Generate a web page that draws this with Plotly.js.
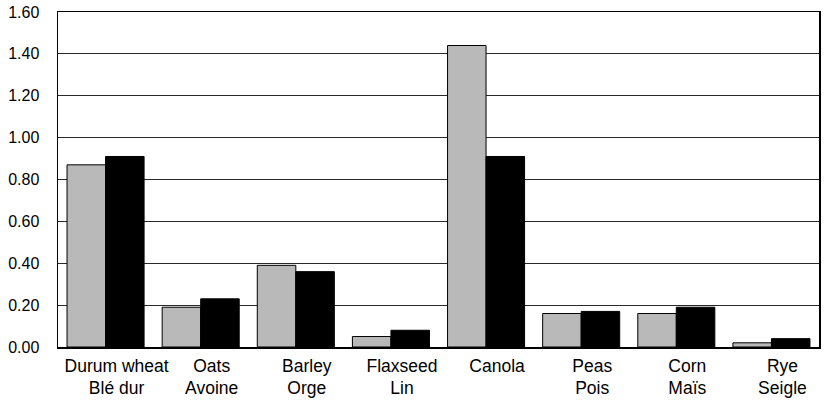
<!DOCTYPE html>
<html>
<head>
<meta charset="utf-8">
<script src="https://cdn.plot.ly/plotly-3.0.1.min.js"></script>
<style>html,body{margin:0;padding:0;background:#fff;}#chart{width:840px;height:403px;}</style>
</head>
<body>
<div id="chart"></div>
<script>
var categories = ["Durum wheat<br>Blé dur", "Oats<br>Avoine", "Barley<br>Orge", "Flaxseed<br>Lin", "Canola", "Peas<br>Pois", "Corn<br>Maïs", "Rye<br>Seigle"];
var seriesGray = [0.87, 0.19, 0.39, 0.05, 1.44, 0.16, 0.16, 0.02];
var seriesBlack = [0.91, 0.23, 0.36, 0.08, 0.91, 0.17, 0.19, 0.04];
var yTickVals = [0, 0.2, 0.4, 0.6, 0.8, 1.0, 1.2, 1.4, 1.6];
var yTickText = ["0.00", "0.20", "0.40", "0.60", "0.80", "1.00", "1.20", "1.40", "1.60"];

var traces = [
  {type: "bar", x: categories, y: seriesGray, marker: {color: "#b9b9b9", line: {color: "#000", width: 1}}, hoverinfo: "skip"},
  {type: "bar", x: categories, y: seriesBlack, marker: {color: "#000", line: {color: "#000", width: 1}}, hoverinfo: "skip"}
];
var layout = {
  width: 840, height: 403,
  margin: {l: 58, r: 21, t: 12, b: 56},
  paper_bgcolor: "#fff", plot_bgcolor: "#fff",
  showlegend: false,
  barmode: "group", bargap: 0.19, bargroupgap: 0,
  font: {family: "Liberation Sans, Arial, sans-serif", color: "#000"},
  xaxis: {
    showline: true, linecolor: "#000", linewidth: 1.5, mirror: true,
    ticks: "", showgrid: false, ticklabelstandoff: 2, ticklabelshift: 11,
    tickfont: {family: "Liberation Sans, Arial, sans-serif", size: 17.5, color: "#000"},
    fixedrange: true
  },
  yaxis: {
    range: [0, 1.6], tickvals: yTickVals, ticktext: yTickText,
    showline: true, linecolor: "#000", linewidth: 1.5, mirror: true,
    showgrid: true, gridcolor: "#2a2a2a", gridwidth: 1, zeroline: false,
    ticks: "", ticklabelstandoff: 14,
    tickfont: {family: "Liberation Sans, Arial, sans-serif", size: 16, color: "#000"},
    fixedrange: true
  }
};
Plotly.newPlot("chart", traces, layout, {displayModeBar: false, staticPlot: true});
</script>
</body>
</html>
